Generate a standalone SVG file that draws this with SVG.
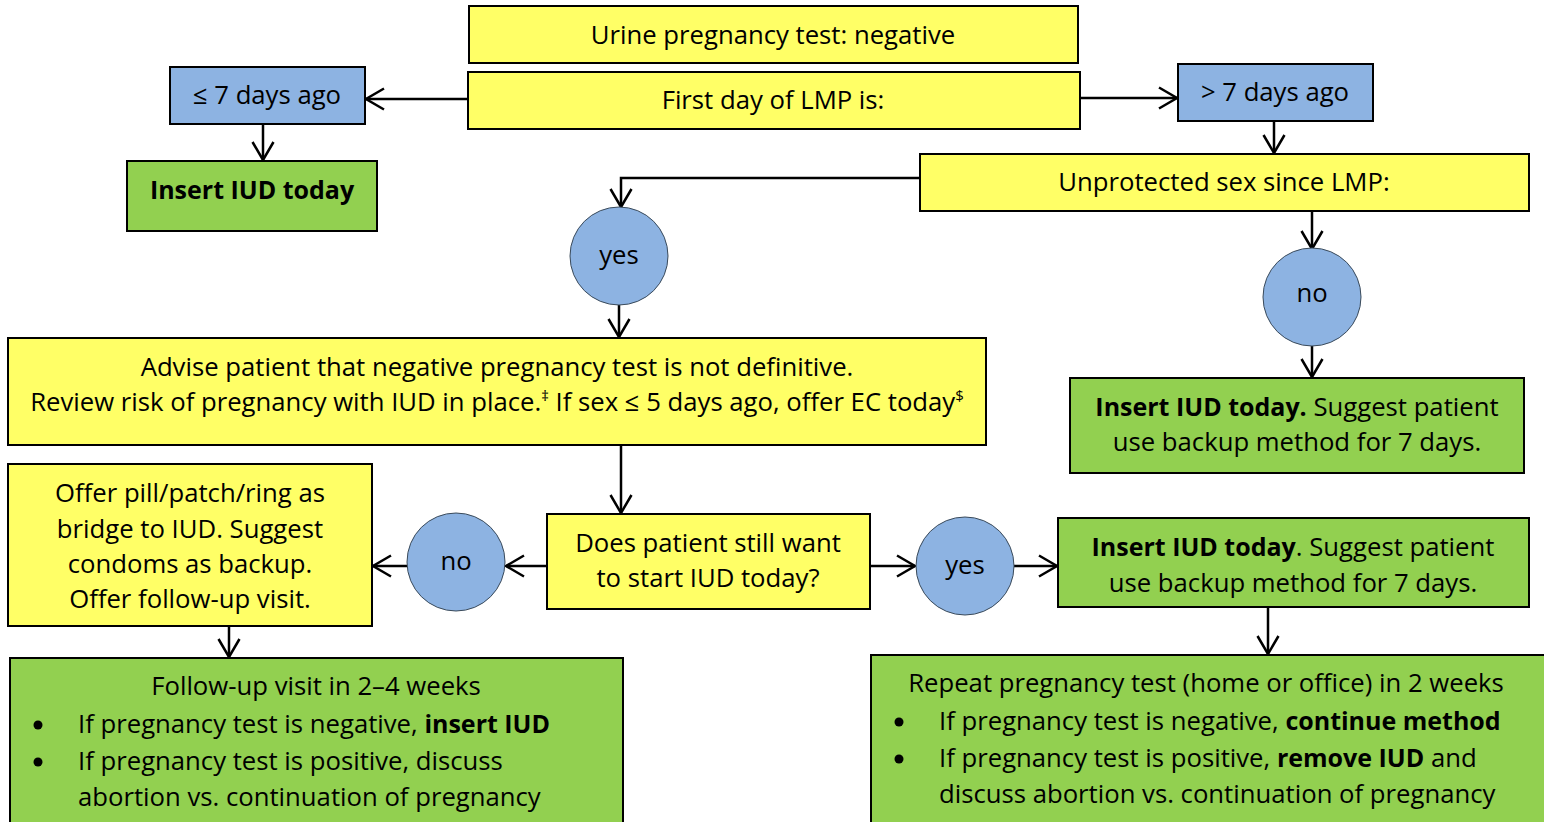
<svg xmlns="http://www.w3.org/2000/svg" width="1544" height="822" viewBox="0 0 1544 822">
<defs>
<style>
.y{fill:#FFFF66;stroke:#000;stroke-width:2}
.b{fill:#8DB3E2;stroke:#000;stroke-width:2}
.g{fill:#92D050;stroke:#000;stroke-width:2}
.c{fill:#8DB3E2;stroke:#3a4a5a;stroke-width:1}
text{font-family:"Open Sans","Noto Sans","Liberation Sans",sans-serif;font-size:25.7px;fill:#000}
.m{text-anchor:middle}
.bd{font-weight:bold;font-size:25px}
.cn{fill:none;stroke:#000;stroke-width:2.5}
</style>
<marker id="ah" markerUnits="userSpaceOnUse" markerWidth="22" markerHeight="26" refX="19" refY="12" orient="auto">
<path d="M1,1.5 L19,12 L1,22.5" fill="none" stroke="#000" stroke-width="2.5"/>
</marker>
</defs>
<rect width="1544" height="822" fill="#fff"/>
<g id="connectors" class="cn">
<path d="M468,99 H366" marker-end="url(#ah)"/>
<path d="M1080,98 H1177" marker-end="url(#ah)"/>
<path d="M263,124 V160" marker-end="url(#ah)"/>
<path d="M1274,121 V153" marker-end="url(#ah)"/>
<path d="M920,178 H621 V207" marker-end="url(#ah)"/>
<path d="M1312,211 V249" marker-end="url(#ah)"/>
<path d="M1312,345 V377" marker-end="url(#ah)"/>
<path d="M619,304 V337" marker-end="url(#ah)"/>
<path d="M621,445 V513" marker-end="url(#ah)"/>
<path d="M547,566 H506" marker-end="url(#ah)"/>
<path d="M407,566 H373" marker-end="url(#ah)"/>
<path d="M870,566 H915" marker-end="url(#ah)"/>
<path d="M1014,566 H1057" marker-end="url(#ah)"/>
<path d="M229,626 V657" marker-end="url(#ah)"/>
<path d="M1268,607 V654" marker-end="url(#ah)"/>
</g>
<g id="urine"><rect class="y" x="469" y="6" width="609" height="57"/><text class="m" x="773" y="44">Urine pregnancy test: negative</text></g>
<g id="lmp"><rect class="y" x="468" y="72" width="612" height="57"/><text class="m" x="773" y="109">First day of LMP is:</text></g>
<g id="le7"><rect class="b" x="170" y="67" width="195" height="57"/><text class="m" x="267" y="104">≤ 7 days ago</text></g>
<g id="gt7"><rect class="b" x="1178" y="64" width="195" height="57"/><text class="m" x="1275" y="101">&gt; 7 days ago</text></g>
<g id="insert1"><rect class="g" x="127" y="161" width="250" height="70"/><text class="m bd" x="252" y="199">Insert IUD today</text></g>
<g id="unprot"><rect class="y" x="920" y="154" width="609" height="57"/><text class="m" x="1224" y="191">Unprotected sex since LMP:</text></g>
<g id="yes1"><circle class="c" cx="619" cy="256" r="49"/><text class="m" x="619" y="264">yes</text></g>
<g id="no1"><circle class="c" cx="1312" cy="297" r="49"/><text class="m" x="1312" y="302">no</text></g>
<g id="advise"><rect class="y" x="8" y="338" width="978" height="107"/>
<text class="m" x="497" y="376">Advise patient that negative pregnancy test is not definitive.</text>
<text class="m" x="497" y="411">Review risk of pregnancy with IUD in place.<tspan font-size="15" dy="-10">‡</tspan><tspan dy="10"> If sex ≤ 5 days ago, offer EC today</tspan><tspan font-size="15" dy="-10">$</tspan></text></g>
<g id="insert2"><rect class="g" x="1070" y="378" width="454" height="95"/>
<text class="m" x="1297" y="416"><tspan class="bd">Insert IUD today.</tspan>  Suggest patient</text>
<text class="m" x="1297" y="451">use backup method for 7 days.</text></g>
<g id="offer"><rect class="y" x="8" y="464" width="364" height="162"/>
<text class="m" x="190" y="502">Offer pill/patch/ring as</text>
<text class="m" x="190" y="538">bridge to IUD. Suggest</text>
<text class="m" x="190" y="573">condoms as backup.</text>
<text class="m" x="190" y="608">Offer follow-up visit.</text></g>
<g id="no2"><circle class="c" cx="456" cy="562" r="49"/><text class="m" x="456" y="570">no</text></g>
<g id="does"><rect class="y" x="547" y="514" width="323" height="95"/>
<text class="m" x="708" y="552">Does patient still want</text>
<text class="m" x="708" y="587">to start IUD today?</text></g>
<g id="yes2"><circle class="c" cx="965" cy="566" r="49"/><text class="m" x="965" y="574">yes</text></g>
<g id="insert3"><rect class="g" x="1058" y="518" width="471" height="89"/>
<text class="m" x="1293" y="556"><tspan class="bd">Insert IUD today</tspan>. Suggest patient</text>
<text class="m" x="1293" y="592">use backup method for 7 days.</text></g>
<g id="followup"><rect class="g" x="10" y="658" width="613" height="170"/>
<text class="m" x="316" y="695">Follow-up visit in 2–4 weeks</text>
<circle cx="38" cy="725" r="4.5"/><text x="78" y="733">If pregnancy test is negative, <tspan class="bd">insert IUD</tspan></text>
<circle cx="38" cy="762" r="4.5"/><text x="78" y="770">If pregnancy test is positive, discuss</text>
<text x="78" y="806">abortion vs. continuation of pregnancy</text></g>
<g id="repeat"><rect class="g" x="871" y="655" width="680" height="175"/>
<text class="m" x="1206" y="692">Repeat pregnancy test (home or office) in 2 weeks</text>
<circle cx="899" cy="722" r="4.5"/><text x="939" y="730">If pregnancy test is negative, <tspan class="bd">continue method</tspan></text>
<circle cx="899" cy="759" r="4.5"/><text x="939" y="767">If pregnancy test is positive, <tspan class="bd">remove IUD</tspan> and</text>
<text x="939" y="803">discuss abortion vs. continuation of pregnancy</text></g>
</svg>
